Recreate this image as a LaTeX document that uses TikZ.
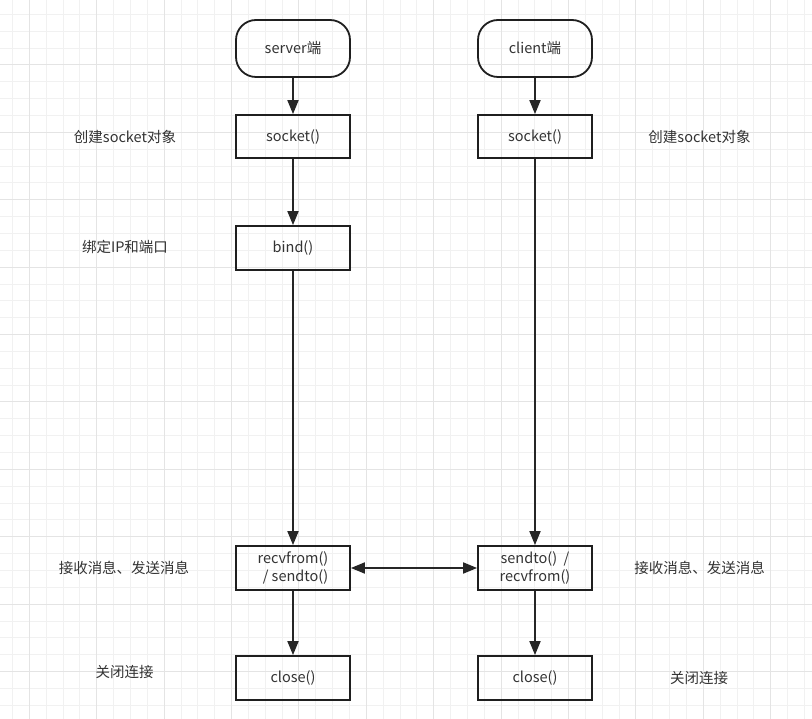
\documentclass[tikz,border=0pt]{standalone}
\usepackage{fontspec}
\setmainfont{Noto Sans CJK SC}
\usetikzlibrary{arrows.meta}
\definecolor{txt}{HTML}{333333}
\definecolor{gminor}{HTML}{F1F1F1}
\definecolor{gmajor}{HTML}{E4E4E4}
\begin{document}
\begin{tikzpicture}[x=1pt,y=-1pt,
  box/.style={draw=black!88,line width=1.8pt,minimum width=114pt,minimum height=43pt,inner sep=0pt,text=txt,font=\fontsize{14.5}{18}\selectfont,align=center},
  startbox/.style={box,minimum height=57pt,rounded corners=20pt},
  lbl/.style={text=txt,font=\fontsize{14.5}{18}\selectfont,inner sep=0pt},
  conn/.style={draw=black!85,line width=1.8pt,-{Triangle[length=14pt,width=11pt]}},
  conn2/.style={draw=black!85,line width=1.8pt,{Triangle[length=14pt,width=11pt]}-{Triangle[length=14pt,width=11pt]}}]
\useasboundingbox (0,0) rectangle (812,719);
\fill[white] (0,0) rectangle (812,719);
% grid
\foreach \i in {0,...,49} {
  \pgfmathsetmacro{\gx}{12.5+16.85*(\i-1)}
  \draw[gminor,line width=1pt] (\gx,0) -- (\gx,719);
}
\foreach \i in {0,...,43} {
  \pgfmathsetmacro{\gy}{14.45+16.85*(\i-1)}
  \draw[gminor,line width=1pt] (0,\gy) -- (812,\gy);
}
\foreach \i in {0,...,12} {
  \pgfmathsetmacro{\gx}{29.3+67.4*(\i-1)}
  \draw[gmajor,line width=1pt] (\gx,0) -- (\gx,719);
}
\foreach \i in {0,...,11} {
  \pgfmathsetmacro{\gy}{65+67.4*(\i-1)}
  \draw[gmajor,line width=1pt] (0,\gy) -- (812,\gy);
}
% nodes
\node[startbox] (server) at (293,48.5) {server端};
\node[startbox] (client) at (535,48.5) {client端};
\node[box] (sock1) at (293,136.5) {socket()};
\node[box] (sock2) at (535,136.5) {socket()};
\node[box,minimum height=44pt] (bind) at (293,248) {bind()};
\node[box,minimum height=44pt] (recv) at (293,568) {recvfrom()\\\hspace*{0.35em}/ sendto()};
\node[box,minimum height=44pt] (send) at (535,568) {sendto()~~/\\recvfrom()};
\node[box,minimum height=44pt] (close1) at (293,678) {close()};
\node[box,minimum height=44pt] (close2) at (535,678) {close()};
% labels
\node[lbl] (l1) at (125,137) {创建socket对象};
\node[lbl] (l2) at (125,247) {绑定IP和端口};
\node[lbl] (l3) at (124,568) {接收消息、发送消息};
\node[lbl] (l4) at (124.5,672) {关闭连接};
\node[lbl] (r1) at (699.5,137) {创建socket对象};
\node[lbl] (r3) at (699.5,568) {接收消息、发送消息};
\node[lbl] (r4) at (699,678) {关闭连接};
% connectors
\draw[conn] (server) -- (sock1);
\draw[conn] (sock1) -- (bind);
\draw[conn] (bind) -- (recv);
\draw[conn] (recv) -- (close1);
\draw[conn] (client) -- (sock2);
\draw[conn] (sock2) -- (send);
\draw[conn] (send) -- (close2);
\draw[conn2] (recv) -- (send);
\end{tikzpicture}
\end{document}
